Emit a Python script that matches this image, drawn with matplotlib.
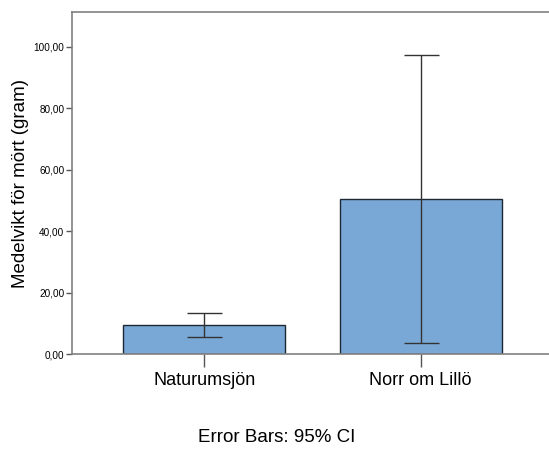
import matplotlib
matplotlib.use("Agg")
import matplotlib.pyplot as plt
import numpy as np

categories = ["Naturumsjön", "Norr om Lillö"]
means = [9.3, 50.4]
ci_low = [5.4, 3.6]
ci_high = [13.3, 97.3]
yticks = [0, 20, 40, 60, 80, 100]
ytick_labels = ["0,00", "20,00", "40,00", "60,00", "80,00", "100,00"]

plt.rcParams['font.family'] = ['Liberation Sans', 'DejaVu Sans']

fig = plt.figure(figsize=(5.49, 4.5), dpi=100)
ax = fig.add_axes([72/549, 96/450, 1 - 72/549, (354-12)/450])

x = np.arange(len(categories))
ax.bar(x, means, width=0.75, color='#7aa8d6', edgecolor='#1e2833', linewidth=1.0, zorder=2)
yerr = [np.array(means) - np.array(ci_low), np.array(ci_high) - np.array(means)]
ax.errorbar(x, means, yerr=yerr, fmt='none', ecolor='#333333', elinewidth=1.0,
            capsize=12.6, capthick=1.0, zorder=3)

ax.set_xlim(-0.611, 1.593)
ax.set_ylim(0, 111.4)
ax.set_xticks(x)
ax.set_xticklabels(categories, fontsize=13)
ax.set_yticks(yticks)
ax.set_yticklabels(ytick_labels, fontsize=7.2)
ax.tick_params(axis='x', length=9, width=1, color='#555555', pad=4)
ax.tick_params(axis='y', length=4, width=1, color='#555555', pad=1.5)

for side in ['left', 'top', 'bottom']:
    ax.spines[side].set_color('#808080')
    ax.spines[side].set_linewidth(1.2)
ax.spines['right'].set_visible(False)

ax.set_ylabel("Medelvikt för mört (gram)", fontsize=13.5, labelpad=3)
fig.text(277/549, 1 - 438/450, "Error Bars: 95% CI", fontsize=13.5, ha='center', va='center')

fig.savefig("out.png", dpi=100)
